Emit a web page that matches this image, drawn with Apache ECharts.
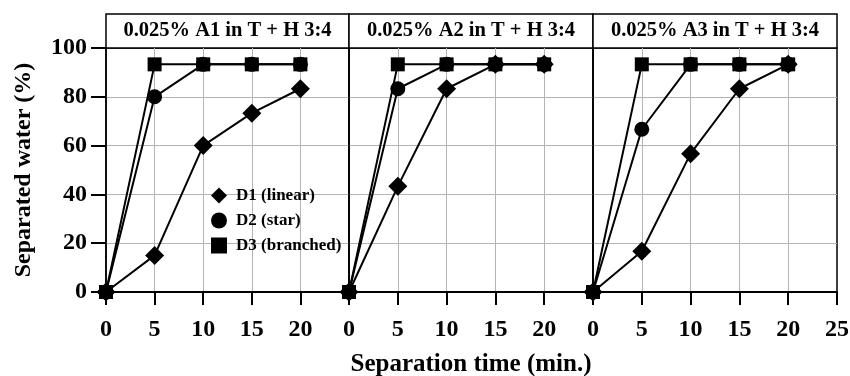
<!DOCTYPE html>
<html>
<head>
<meta charset="utf-8">
<script src="https://cdn.jsdelivr.net/npm/echarts@6/dist/echarts.min.js"></script>
<style>
  html, body { margin: 0; padding: 0; background: #fff; }
  #chart { width: 850px; height: 376px; }
</style>
</head>
<body>
<div id="chart"></div>
<script>
  // data
  var times = [0, 5, 10, 15, 20];
  var panelTitles = ['0.025% A1 in T + H 3:4', '0.025% A2 in T + H 3:4', '0.025% A3 in T + H 3:4'];
  var seriesNames = ['D1 (linear)', 'D2 (star)', 'D3 (branched)'];
  var a1Linear = [0, 15, 60, 73.3, 83.3];
  var a1Star = [0, 80, 93.3, 93.3, 93.3];
  var a1Branched = [0, 93.3, 93.3, 93.3, 93.3];
  var a2Linear = [0, 43.3, 83.3, 93.3, 93.3];
  var a2Star = [0, 83.3, 93.3, 93.3, 93.3];
  var a2Branched = [0, 93.3, 93.3, 93.3, 93.3];
  var a3Linear = [0, 16.7, 56.7, 83.3, 93.3];
  var a3Star = [0, 66.7, 93.3, 93.3, 93.3];
  var a3Branched = [0, 93.3, 93.3, 93.3, 93.3];
  var xMin = 0, xMax = 25, xStep = 5;
  var yMin = 0, yMax = 100, yStep = 20;

  var panels = [
    [a1Linear, a1Star, a1Branched],
    [a2Linear, a2Star, a2Branched],
    [a3Linear, a3Star, a3Branched]
  ];
  var symbols = ['diamond', 'circle', 'rect'];
  var symbolSizes = [19, 15, 14];

  var font = 'Liberation Serif';
  var lefts = [106, 349, 593];
  var widths = [243, 244, 244];
  var plotTop = 48, plotH = 244;
  var boxTop = 14;

  var chart = echarts.init(document.getElementById('chart'));

  var grids = [], xAxes = [], yAxes = [], series = [], graphics = [];
  panels.forEach(function (p, i) {
    grids.push({
      left: lefts[i], top: plotTop, width: widths[i], height: plotH,
      outerBoundsMode: 'none', containLabel: false,
      show: true, borderColor: '#000', borderWidth: 1.5, backgroundColor: 'transparent'
    });
    xAxes.push({
      gridIndex: i, type: 'value', min: xMin, max: xMax, interval: xStep,
      axisLine: { show: true, onZero: false, lineStyle: { color: '#000', width: 2 } },
      axisTick: { show: true, length: 13, lineStyle: { color: '#000', width: 2 } },
      axisLabel: {
        margin: 26, color: '#000', fontFamily: font, fontWeight: 'bold', fontSize: 24,
        formatter: function (v) { return (i < 2 && v === xMax) ? '' : String(v); }
      },
      splitLine: { show: true, showMinLine: false, showMaxLine: false, lineStyle: { color: '#b4b4b4', width: 1 } },
      name: i === 1 ? 'Separation time (min.)' : '',
      nameLocation: 'middle', nameGap: 60,
      nameTextStyle: { color: '#000', fontFamily: font, fontWeight: 'bold', fontSize: 25 }
    });
    yAxes.push({
      gridIndex: i, type: 'value', min: yMin, max: yMax, interval: yStep,
      axisLine: { show: true, lineStyle: { color: '#000', width: 1.5 } },
      axisTick: { show: i === 0, length: 15, lineStyle: { color: '#000', width: 2 } },
      axisLabel: { show: i === 0, margin: 19, color: '#000', fontFamily: font, fontWeight: 'bold', fontSize: 24 },
      splitLine: { show: true, showMinLine: false, showMaxLine: false, lineStyle: { color: '#b4b4b4', width: 1 } },
      name: i === 0 ? 'Separated water (%)' : '',
      nameLocation: 'middle', nameGap: 70,
      nameTextStyle: { color: '#000', fontFamily: font, fontWeight: 'bold', fontSize: 24 }
    });
    p.forEach(function (vals, k) {
      series.push({
        name: seriesNames[k], type: 'line', xAxisIndex: i, yAxisIndex: i,
        data: times.map(function (t, j) { return [t, vals[j]]; }),
        symbol: symbols[k], symbolSize: symbolSizes[k],
        itemStyle: { color: '#000' },
        lineStyle: { color: '#000', width: 2 },
        z: 3 + k, animation: false
      });
    });
    // title box above each panel
    graphics.push({
      type: 'rect', shape: { x: lefts[i], y: boxTop, width: widths[i], height: plotTop - boxTop },
      style: { fill: '#fff', stroke: '#000', lineWidth: 1.5 }
    });
    graphics.push({
      type: 'text', x: lefts[i] + widths[i] / 2, y: boxTop + (plotTop - boxTop) / 2,
      style: {
        text: panelTitles[i], fill: '#000', font: 'bold 20.5px "' + font + '"',
        textAlign: 'center', textVerticalAlign: 'middle'
      }
    });
  });

  chart.setOption({
    animation: false,
    grid: grids,
    xAxis: xAxes,
    yAxis: yAxes,
    series: series,
    graphic: graphics,
    legend: {
      orient: 'vertical', left: 211, top: 187, padding: 0, itemGap: 8,
      itemWidth: 16, itemHeight: 16,
      data: [
        { name: seriesNames[0], icon: 'diamond' },
        { name: seriesNames[1], icon: 'circle' },
        { name: seriesNames[2], icon: 'rect' }
      ],
      textStyle: { color: '#000', fontFamily: font, fontWeight: 'bold', fontSize: 17, padding: [0, 0, 0, 4] }
    }
  });
</script>
</body>
</html>
